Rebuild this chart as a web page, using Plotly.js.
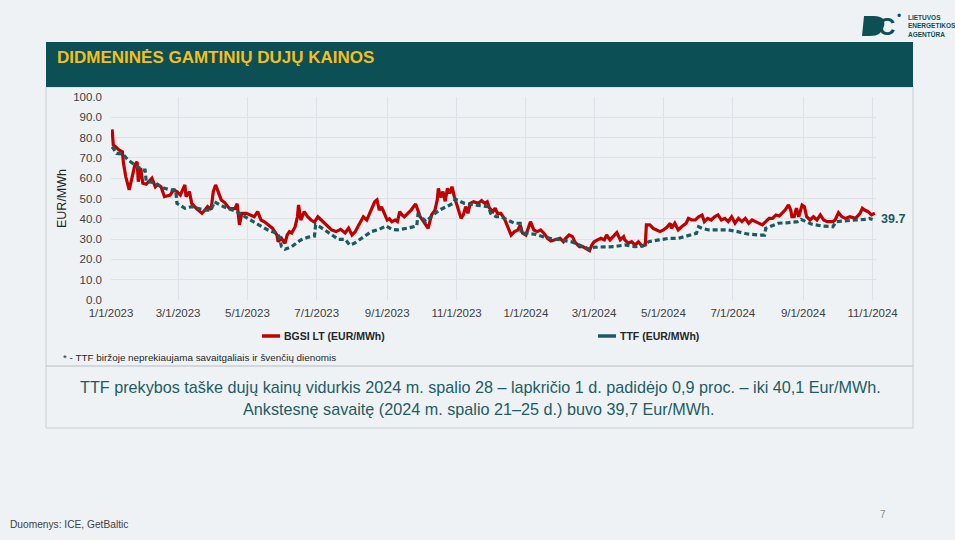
<!DOCTYPE html>
<html>
<head>
<meta charset="utf-8">
<script src="https://cdn.plot.ly/plotly-3.0.1.min.js"></script>
<style>
html,body{margin:0;padding:0;background:#eef2f5;}
#chart{width:955px;height:540px;}
</style>
</head>
<body>
<div id="chart"></div>
<script>
// ---- DATA ----
const bgsiName = "BGSI LT (EUR/MWh)";
const ttfName = "TTF (EUR/MWh)";
const bgsiDates = ["2023-01-02","2023-01-03","2023-01-05","2023-01-08","2023-01-11","2023-01-12","2023-01-14","2023-01-17","2023-01-19","2023-01-22","2023-01-24","2023-01-25","2023-01-27","2023-01-29","2023-02-01","2023-02-04","2023-02-06","2023-02-09","2023-02-11","2023-02-14","2023-02-17","2023-02-22","2023-02-25","2023-02-28","2023-03-03","2023-03-07","2023-03-08","2023-03-11","2023-03-13","2023-03-17","2023-03-22","2023-03-24","2023-03-27","2023-03-30","2023-04-01","2023-04-03","2023-04-05","2023-04-08","2023-04-11","2023-04-15","2023-04-20","2023-04-22","2023-04-24","2023-04-26","2023-04-30","2023-05-03","2023-05-07","2023-05-10","2023-05-13","2023-05-16","2023-05-19","2023-05-23","2023-05-27","2023-05-28","2023-05-31","2023-06-03","2023-06-05","2023-06-07","2023-06-09","2023-06-12","2023-06-14","2023-06-15","2023-06-17","2023-06-20","2023-06-23","2023-06-26","2023-06-29","2023-07-02","2023-07-05","2023-07-08","2023-07-11","2023-07-14","2023-07-18","2023-07-22","2023-07-26","2023-07-29","2023-08-01","2023-08-04","2023-08-07","2023-08-11","2023-08-14","2023-08-18","2023-08-21","2023-08-23","2023-08-25","2023-08-27","2023-08-30","2023-09-01","2023-09-03","2023-09-05","2023-09-08","2023-09-10","2023-09-12","2023-09-14","2023-09-16","2023-09-19","2023-09-22","2023-09-26","2023-09-28","2023-09-30","2023-10-03","2023-10-05","2023-10-07","2023-10-10","2023-10-13","2023-10-15","2023-10-16","2023-10-18","2023-10-20","2023-10-22","2023-10-24","2023-10-26","2023-10-28","2023-10-30","2023-11-01","2023-11-03","2023-11-05","2023-11-07","2023-11-09","2023-11-11","2023-11-13","2023-11-16","2023-11-20","2023-11-23","2023-11-26","2023-11-28","2023-11-30","2023-12-03","2023-12-05","2023-12-07","2023-12-10","2023-12-13","2023-12-16","2023-12-19","2023-12-22","2023-12-25","2023-12-27","2023-12-29","2024-01-01","2024-01-04","2024-01-05","2024-01-08","2024-01-11","2024-01-14","2024-01-17","2024-01-20","2024-01-23","2024-01-26","2024-01-31","2024-02-03","2024-02-05","2024-02-08","2024-02-11","2024-02-13","2024-02-17","2024-02-20","2024-02-23","2024-02-26","2024-02-28","2024-03-01","2024-03-04","2024-03-07","2024-03-10","2024-03-12","2024-03-15","2024-03-18","2024-03-21","2024-03-24","2024-03-27","2024-03-28","2024-03-31","2024-04-03","2024-04-06","2024-04-09","2024-04-12","2024-04-15","2024-04-16","2024-04-19","2024-04-22","2024-04-25","2024-04-28","2024-05-01","2024-05-04","2024-05-07","2024-05-08","2024-05-11","2024-05-14","2024-05-17","2024-05-21","2024-05-23","2024-05-26","2024-05-29","2024-06-01","2024-06-04","2024-06-06","2024-06-09","2024-06-12","2024-06-15","2024-06-18","2024-06-21","2024-06-24","2024-06-27","2024-06-30","2024-07-03","2024-07-06","2024-07-09","2024-07-12","2024-07-15","2024-07-18","2024-07-21","2024-07-24","2024-07-27","2024-07-30","2024-08-02","2024-08-05","2024-08-08","2024-08-11","2024-08-14","2024-08-16","2024-08-19","2024-08-21","2024-08-22","2024-08-24","2024-08-26","2024-08-28","2024-08-31","2024-09-02","2024-09-04","2024-09-07","2024-09-10","2024-09-13","2024-09-16","2024-09-19","2024-09-22","2024-09-27","2024-09-29","2024-10-02","2024-10-05","2024-10-08","2024-10-12","2024-10-17","2024-10-21","2024-10-23","2024-10-25","2024-10-28","2024-10-31","2024-11-03"];
const bgsiVals = [84,76.4,75.5,73.9,73,67.3,60.7,54.2,59,66.5,68.1,58.3,65,57.5,57,59,60,55.8,57,55.8,50.9,51.7,54.2,53.4,51.7,56.7,50.9,53.4,47.6,45.2,42.7,44,46,44.5,53.4,56.7,54,49.3,48,45.2,45,47.5,37,42.7,42.7,42,41,43.5,39.4,38.5,37,35.4,32,28.7,30.4,27.9,32,33.7,33,36.1,41,46.8,39.4,43.5,41,39.4,38.4,41,39.4,37.8,36,34.5,33.7,34.8,33,35.4,32,33.7,37,41,39.4,44.3,48.4,49.3,44.3,45.9,41.9,39.4,40,38.6,39.4,38.6,43.5,41.9,41,42.7,44.3,47.3,44.3,41,38.6,37,35.3,41.9,44.3,49.3,55,50.5,53.4,48.6,55,52.5,55.8,51,47.6,43.5,40.2,41.9,46,42.7,47.6,48.4,47.6,49,47.6,48.4,45.2,43.5,45.2,42.7,42.7,40.2,36.1,32,33.7,34.5,37,33,32,37.8,38.6,34.5,33.7,34.5,32.8,30.4,29.1,29.6,30.4,28.7,30.4,32,31.2,28.7,26.3,26.3,25.5,24.3,27.1,28.7,29.6,30.4,29.6,32,29.6,31.2,33.2,29.6,31.2,29.6,28,28.7,27.1,28.7,26.6,27.1,37,37,35.3,34.5,33.7,34.5,35.8,37.8,35.3,37.8,34.5,36.1,37.8,40.2,39.4,39.4,41,41.9,38.6,40.2,39.4,41,41.9,39.4,40.2,38.6,41,37.8,40.2,38.6,40.2,37.8,39.4,38.6,37.8,37,38.6,40.2,40.2,41.9,41.4,43,44.3,46.8,44.3,41,41,45.2,41,46.8,46,41,39.4,41,39.4,41.9,39.4,38.6,38.6,39.4,43,41,40.2,41,40.2,42.7,45.2,44.3,43.5,41.9,42.7];

const ttfDates = ["2023-01-02","2023-01-06","2023-01-11","2023-01-16","2023-01-24","2023-01-29","2023-01-31","2023-02-01","2023-02-06","2023-02-11","2023-02-17","2023-02-23","2023-02-27","2023-02-28","2023-03-07","2023-03-13","2023-03-19","2023-03-24","2023-03-30","2023-04-02","2023-04-07","2023-04-13","2023-04-20","2023-04-26","2023-05-03","2023-05-11","2023-05-19","2023-05-27","2023-05-29","2023-05-31","2023-06-03","2023-06-09","2023-06-17","2023-06-23","2023-06-29","2023-06-30","2023-07-04","2023-07-08","2023-07-14","2023-07-20","2023-07-26","2023-07-30","2023-08-03","2023-08-09","2023-08-15","2023-08-18","2023-08-25","2023-08-31","2023-09-05","2023-09-10","2023-09-19","2023-09-27","2023-09-28","2023-10-01","2023-10-05","2023-10-08","2023-10-13","2023-10-18","2023-10-24","2023-10-29","2023-10-31","2023-11-04","2023-11-08","2023-11-17","2023-11-26","2023-11-29","2023-12-01","2023-12-06","2023-12-10","2023-12-16","2023-12-22","2023-12-27","2023-12-28","2024-01-03","2024-01-09","2024-01-16","2024-01-25","2024-02-01","2024-02-10","2024-02-17","2024-02-22","2024-02-26","2024-03-01","2024-03-10","2024-03-19","2024-03-28","2024-04-06","2024-04-13","2024-04-18","2024-04-27","2024-05-06","2024-05-14","2024-05-20","2024-05-27","2024-05-30","2024-06-01","2024-06-04","2024-06-10","2024-06-18","2024-06-27","2024-07-05","2024-07-14","2024-07-24","2024-07-29","2024-07-30","2024-08-04","2024-08-10","2024-08-19","2024-08-27","2024-08-30","2024-09-04","2024-09-08","2024-09-17","2024-09-27","2024-09-30","2024-10-08","2024-10-17","2024-10-25","2024-10-29","2024-11-01"];
const ttfVals = [75.5,72.2,72,69,65.7,64,64,58.3,58,56.7,55,54.2,54.2,47.6,45.2,46,45.2,44.3,44.3,48.4,46.8,45.2,44,41.9,39.4,37,34.5,32.8,31.2,26.3,25,26.3,29.6,30.9,31.5,37,36,34.5,32,29.9,29.9,27.1,27.9,30.4,32.8,33.7,34.8,36.5,34.8,34.5,35.4,36.5,41.9,41,38.6,40.2,42.7,44.6,46.3,47.6,49.6,48.4,47.6,46.8,46.3,46,42.7,41,41,39.4,37.8,37.8,32.8,32.8,32.4,31.2,30,29.6,28.7,27.1,26,25,26,26,26.3,27.1,26.3,26.6,28.7,29.6,30.4,30.4,31.2,32,32.8,36.1,35.3,34.5,34.5,34.5,33.7,32.5,32,32,35.3,36.5,37.8,38.1,38.6,39.7,38.6,37.4,36.5,36.1,38.6,39.1,39.4,39.7,40.2,39.7];

const titleText = "DIDMENINĖS GAMTINIŲ DUJŲ KAINOS";
const yAxisLabel = "EUR/MWh";
const footnote = "* - TTF biržoje neprekiaujama savaitgaliais ir švenčių dienomis";
const summaryLines = ["TTF prekybos taške dujų kainų vidurkis 2024 m. spalio 28 – lapkričio 1 d. padidėjo 0,9 proc. – iki 40,1 Eur/MWh.",
                      "Ankstesnę savaitę (2024 m. spalio 21–25 d.) buvo 39,7 Eur/MWh."];
const sourceText = "Duomenys: ICE, GetBaltic";
const pageNo = "7";

// ---- LAYOUT ----
const W = 955, H = 540;
const M = {l: 111, r: 79, t: 97, b: 240};
const PW = W - M.l - M.r, PH = H - M.t - M.b;
const px = x => (x - M.l) / PW;
const py = y => (H - M.b - y) / PH;

const FONT = "'Liberation Sans', Arial, sans-serif";
const RED = "#c00000", TEAL = "#1b5a5e", DARK = "#0c4f55";

const traces = [
  {x: bgsiDates, y: bgsiVals, type: "scatter", mode: "lines", name: bgsiName,
   line: {color: RED, width: 3.2}, hoverinfo: "x+y"},
  {x: ttfDates, y: ttfVals, type: "scatter", mode: "lines", name: ttfName,
   line: {color: TEAL, width: 3.2, dash: "5px,3px"}, hoverinfo: "x+y"}
];

const shapes = [
  {type: "rect", xref: "paper", yref: "paper", x0: px(46), x1: px(913), y0: py(87), y1: py(428),
   line: {color: "#c9ced3", width: 1}, fillcolor: "rgba(0,0,0,0)", layer: "below"},
  {type: "line", xref: "paper", yref: "paper", x0: px(46), x1: px(913), y0: py(366), y1: py(366),
   line: {color: "#c9ced3", width: 1.5}},
  {type: "rect", xref: "paper", yref: "paper", x0: px(46), x1: px(913), y0: py(42), y1: py(87),
   line: {width: 0}, fillcolor: DARK},
  {type: "line", xref: "paper", yref: "paper", x0: px(262), x1: px(280), y0: py(336), y1: py(336),
   line: {color: RED, width: 3.5}},
  {type: "line", xref: "paper", yref: "paper", x0: px(598), x1: px(616), y0: py(336), y1: py(336),
   line: {color: TEAL, width: 3.5}},
  {type: "path", xref: "paper", yref: "paper",
   path: `M ${px(864)} ${py(16)} L ${px(874)} ${py(16)} Q ${px(886)} ${py(16)} ${px(884)} ${py(26)} Q ${px(882)} ${py(36)} ${px(870)} ${py(36)} L ${px(862)} ${py(36)} Z`,
   line: {width: 0}, fillcolor: DARK}
];

const lastT = ttfVals[ttfVals.length - 1];
const annotations = [
  {text: titleText, xref: "paper", yref: "paper", x: px(55), y: py(58), xanchor: "left", yanchor: "middle",
   showarrow: false, font: {family: FONT, size: 17, color: "#f2bf1f", weight: "bold"}},
  {text: yAxisLabel, xref: "paper", yref: "paper", x: px(62), y: py(199), textangle: -90,
   xanchor: "center", yanchor: "middle", showarrow: false, font: {family: FONT, size: 12.5, color: "#262626"}},
  {text: bgsiName, xref: "paper", yref: "paper", x: px(282), y: py(336), xanchor: "left", yanchor: "middle",
   showarrow: false, font: {family: FONT, size: 10.5, color: "#262626", weight: "bold"}},
  {text: ttfName, xref: "paper", yref: "paper", x: px(618), y: py(336), xanchor: "left", yanchor: "middle",
   showarrow: false, font: {family: FONT, size: 10.5, color: "#262626", weight: "bold"}},
  {text: footnote, xref: "paper", yref: "paper", x: px(61), y: py(357), xanchor: "left", yanchor: "middle",
   showarrow: false, font: {family: FONT, size: 9.9, color: "#262626"}},
  {text: summaryLines[0], xref: "paper", yref: "paper", x: px(480), y: py(387), xanchor: "center", yanchor: "middle",
   showarrow: false, font: {family: FONT, size: 16.2, color: "#1e5c63"}},
  {text: summaryLines[1], xref: "paper", yref: "paper", x: px(479), y: py(409), xanchor: "center", yanchor: "middle",
   showarrow: false, font: {family: FONT, size: 16.2, color: "#1e5c63"}},
  {text: sourceText, xref: "paper", yref: "paper", x: px(8), y: py(524), xanchor: "left", yanchor: "middle",
   showarrow: false, font: {family: FONT, size: 10.2, color: "#404040"}},
  {text: pageNo, xref: "paper", yref: "paper", x: px(883), y: py(514), xanchor: "center", yanchor: "middle",
   showarrow: false, font: {family: FONT, size: 10, color: "#8c8c8c"}},
  {text: lastT.toFixed(1), x: ttfDates[ttfDates.length - 1], y: lastT, xref: "x", yref: "y",
   xanchor: "left", yanchor: "middle", xshift: 6, showarrow: false,
   font: {family: FONT, size: 12.5, color: TEAL, weight: "bold"}},
  {text: "C", xref: "paper", yref: "paper", x: px(886), y: py(26), xanchor: "center", yanchor: "middle",
   showarrow: false, font: {family: FONT, size: 24, color: DARK, weight: "bold"}},
  {text: "•", xref: "paper", yref: "paper", x: px(899), y: py(16), xanchor: "center", yanchor: "middle",
   showarrow: false, font: {family: FONT, size: 12, color: DARK}},
  {text: "LIETUVOS<br>ENERGETIKOS<br>AGENTŪRA", xref: "paper", yref: "paper", x: px(906), y: py(26),
   xanchor: "left", yanchor: "middle", align: "left", showarrow: false,
   font: {family: FONT, size: 6.5, color: DARK, weight: "bold"}}
];

const layout = {
  width: W, height: H,
  margin: M,
  paper_bgcolor: "#eef2f5", plot_bgcolor: "#eef2f5",
  showlegend: false,
  font: {family: FONT, color: "#404040"},
  xaxis: {
    type: "date", range: ["2023-01-01", "2024-11-04"],
    tick0: "2023-01-01", dtick: "M2", tickformat: "%-m/%-d/%Y",
    showgrid: true, gridcolor: "#dce2e7", gridwidth: 1, zeroline: false, showline: false,
    ticks: "", tickfont: {family: FONT, size: 11.5, color: "#404040"}, ticklabelstandoff: 4
  },
  yaxis: {
    range: [0, 100], dtick: 10, tickformat: ".1f",
    showgrid: true, gridcolor: "#dce2e7", gridwidth: 1, zeroline: false, showline: false,
    ticks: "", tickfont: {family: FONT, size: 11.5, color: "#404040"}, ticklabelstandoff: 8
  },
  shapes: shapes,
  annotations: annotations
};

Plotly.newPlot("chart", traces, layout, {displayModeBar: false, staticPlot: true});
</script>
</body>
</html>
